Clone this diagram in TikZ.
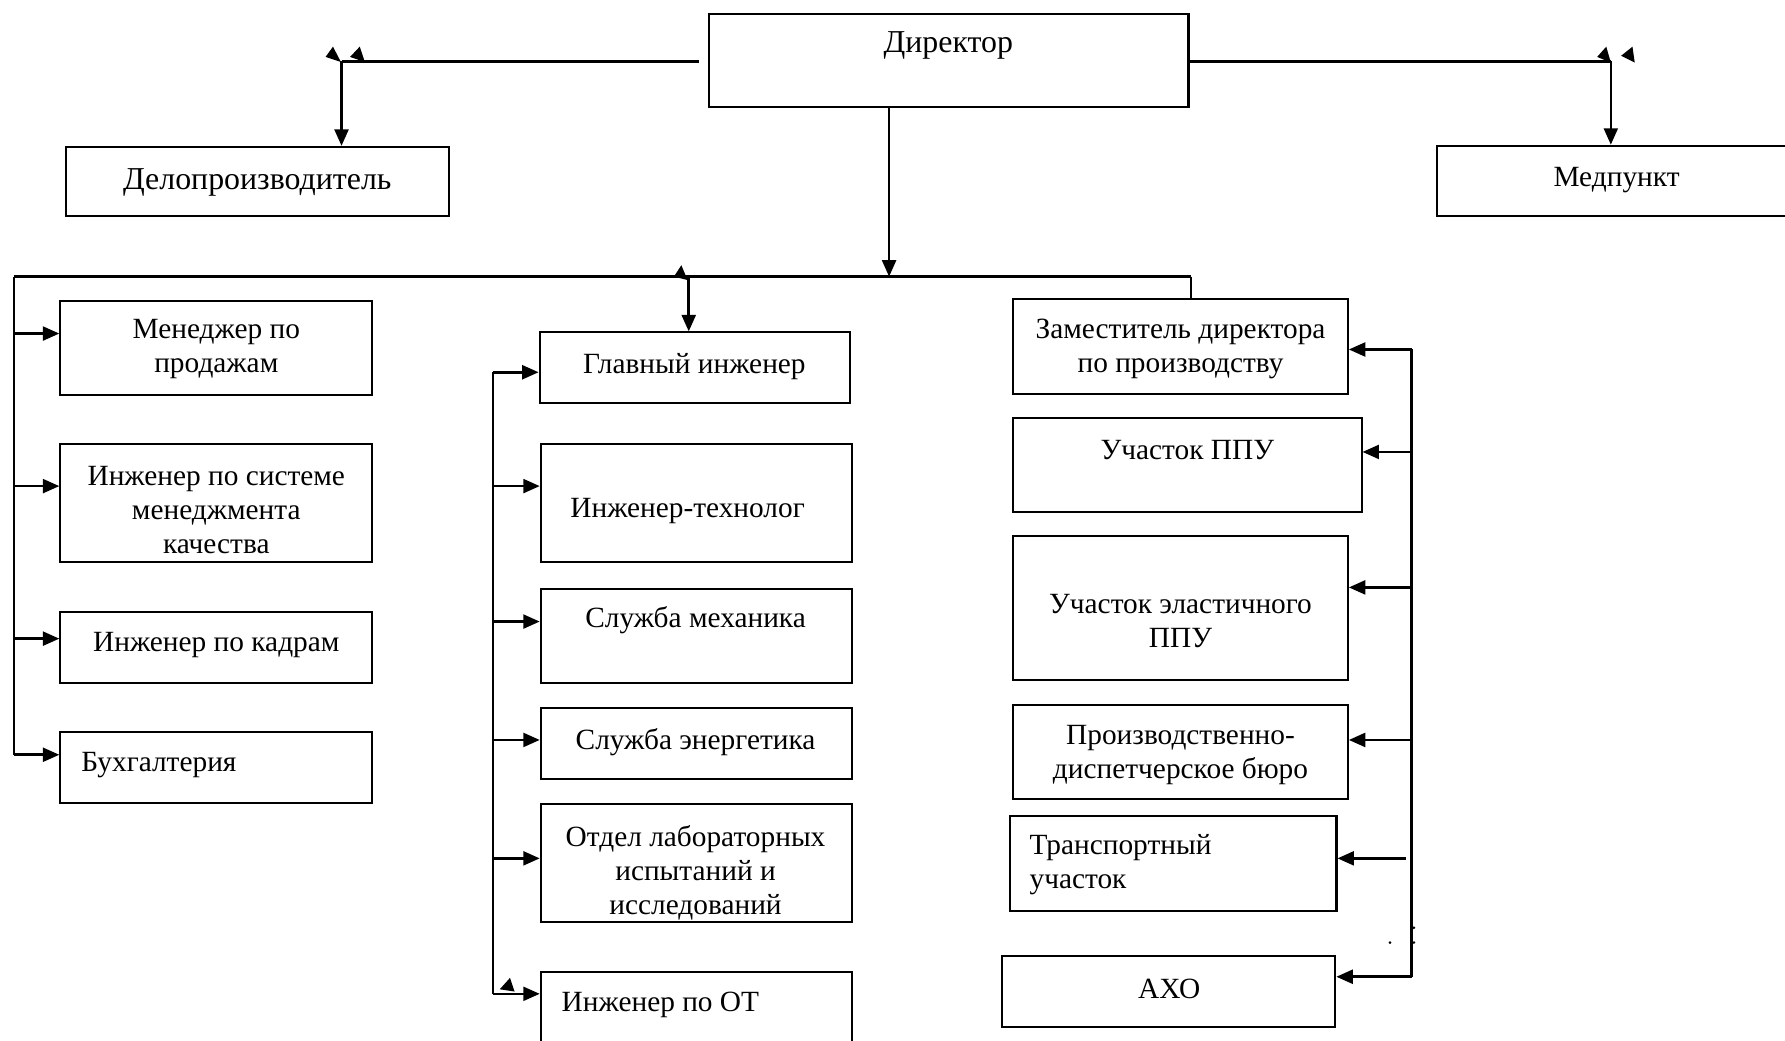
\documentclass[tikz,border=0pt]{standalone}
\usepackage{fontspec}
\setmainfont{Liberation Serif}
\usetikzlibrary{arrows.meta,fit}

\begin{document}
\begin{tikzpicture}[
    x=0.45pt, y=-0.45pt,
    font=\fontsize{11.6}{13.4}\selectfont,
    % -- box styles --
    box/.style={draw, line width=0.8pt, inner sep=0pt},
    txt/.style={align=center, inner sep=0pt, yshift=-1.3pt},
    txtl/.style={align=left, anchor=west, inner sep=0pt, yshift=-1.3pt},
    big/.style={font=\fontsize{12.6}{14}\selectfont},
    % -- connector styles --
    arr/.style={-{Triangle[length=6.5pt,width=5.5pt]}, line width=1pt},
    ln/.style={line width=0.9pt},
]
\useasboundingbox (0,0) rectangle (1568,914);

% ------------------------------
%  TOP LEVEL
% ------------------------------
\node[box, fit={(623,12) (1044,94)}] (dir) {};
\node[txt, big] at (833,37) {Директор};

\node[box, fit={(58,129) (394,190)}] (delo) {};
\node[txt, big] at (226,157) {Делопроизводитель};

\node[box, fit={(1262,128) (1580,190)}] (med) {};
\node[txt] at (1420,155) {Медпункт};

\coordinate (dl) at (300,54);
\coordinate (dr) at (1415,54);
\draw[ln] (dir.west |- dl) ++(-8,0) -- (dl);
\draw[arr] (dl) -- (dl |- delo.north);
\draw[ln] (dir.east |- dr) -- (dr);
\draw[arr] (dr) -- (dr |- med.north);

% loose tips
\fill (286,50) -- (292.5,41) -- (299.5,54.5) -- cycle;
\fill (307.5,50) -- (316,41) -- (320.5,54.5) -- cycle;
\fill (1403,50) -- (1411,41) -- (1415,55) -- cycle;
\fill (1424,49) -- (1434,41) -- (1436,55) -- cycle;

% ------------------------------
%  MAIN BUS
% ------------------------------
\coordinate (busL) at (12,243);
\coordinate (busC) at (781,243);
\coordinate (busG) at (605,243);
\coordinate (busR) at (1046,243);

\draw[arr] (dir.south -| busC) -- (busC);
\draw[ln] (busL) -- (busR);

% ------------------------------
%  LEFT COLUMN
% ------------------------------
\node[box, fit={(53,264) (327,347)}] (sale) {};
\node[txt] at (190,304) {Менеджер по\\продажам};

\node[box, fit={(53,390) (327,494)}] (smk) {};
\node[txt] at (190,445) {Инженер по системе\\менеджмента\\качества};

\node[box, fit={(53,538) (327,600)}] (kadr) {};
\node[txt] at (190,564) {Инженер по кадрам};

\node[box, fit={(53,643) (327,705)}] (buh) {};
\node[txtl] at (71,669) {Бухгалтерия};

\draw[ln] (busL) -- (12,663);
\draw[arr] (12,293) -- (sale.west |- 0,293);
\draw[arr] (12,427) -- (smk.west |- 0,427);
\draw[arr] (12,561) -- (kadr.west |- 0,561);
\draw[arr] (12,663) -- (buh.west |- 0,663);

% ------------------------------
%  MIDDLE COLUMN
% ------------------------------
\node[box, fit={(474,292) (747,354)}] (gi) {};
\node[txt] at (610,319) {Главный инженер};

\node[box, fit={(475,390) (748,494)}] (tech) {};
\node[txt] at (604,446) {Инженер-технолог};

\node[box, fit={(475,517) (748,600)}] (mech) {};
\node[txt] at (611,542) {Служба механика};

\node[box, fit={(475,622) (748,684)}] (energ) {};
\node[txt] at (611,649) {Служба энергетика};

\node[box, fit={(475,706) (748,810)}] (lab) {};
\node[txt] at (611,764) {Отдел лабораторных\\испытаний и\\исследований};

\node[box, fit={(475,854) (748,925)}] (ot) {};
\node[txtl] at (493,880) {Инженер по ОТ};

\draw[arr] (busG) -- (busG |- gi.north);
\fill (592,243) -- (598.5,233) -- (604,246) -- cycle;

\coordinate (mb) at (433,327);
\draw[ln] (mb) -- (433,873);
\draw[arr] (mb) -- (mb -| gi.west);
\draw[arr] (433,427) -- (tech.west |- 0,427);
\draw[arr] (433,546) -- (mech.west |- 0,546);
\draw[arr] (433,650) -- (energ.west |- 0,650);
\draw[arr] (433,754) -- (lab.west |- 0,754);
\draw[arr] (433,873) -- (ot.west |- 0,873);
\fill (439,869) -- (448,859) -- (452,871) -- cycle;

% ------------------------------
%  RIGHT COLUMN
% ------------------------------
\node[box, fit={(890,263) (1184,346)}] (zam) {};
\node[txt] at (1037,304) {Заместитель директора\\по производству};

\node[box, fit={(890,367) (1196,450)}] (ppu) {};
\node[txt] at (1043,392) {Участок ППУ};

\node[box, fit={(890,471) (1184,597)}] (elast) {};
\node[txt] at (1037,543) {Участок эластичного\\ППУ};

\node[box, fit={(890,619) (1184,702)}] (pdb) {};
\node[txt] at (1037,660) {Производственно-\\диспетчерское бюро};

\node[box, fit={(887,717) (1174,800)}] (trans) {};
\node[txtl] at (904,757) {Транспортный\\участок};

\node[box, fit={(880,840) (1173,902)}] (axo) {};
\node[txt] at (1027,866) {АХО};

\draw[ln] (busR) -- (busR |- zam.north);

\coordinate (rb) at (1240,307);
\draw[ln] (rb) -- (1240,858);
\draw[arr] (rb) -- (rb -| zam.east);
\draw[arr] (1240,397) -- (ppu.east |- 0,397);
\draw[arr] (1240,516) -- (elast.east |- 0,516);
\draw[arr] (1240,650) -- (pdb.east |- 0,650);
\draw[arr] (1235,754) -- (trans.east |- 0,754);
\draw[arr] (1240,858) -- (axo.east |- 0,858);
\fill (1221,828) circle (1.3) (1242,815) circle (1.3) (1242,828) circle (1.3);

\end{tikzpicture}
\end{document}
